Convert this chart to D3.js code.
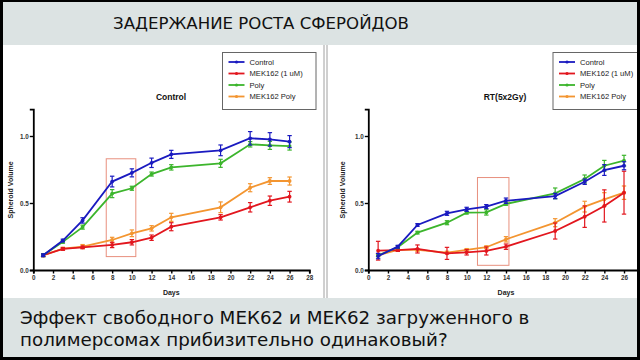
<!DOCTYPE html>
<html><head><meta charset="utf-8">
<script src="https://cdn.jsdelivr.net/npm/d3@7/dist/d3.min.js"></script>
<style>html,body{margin:0;padding:0;background:#000;}svg{display:block;}</style>
</head><body>
<svg id="c" width="640" height="360"></svg>
<script>
// ---- data ----
const slideTitle = "ЗАДЕРЖАНИЕ РОСТА СФЕРОЙДОВ";
const captionLines = ["Эффект свободного МЕК62 и МЕК62 загруженного в", "полимерсомах прибизительно одинаковый?"];
const seriesNames = ["Control", "MEK162 (1 uM)", "Poly", "MEK162 Poly"];
const seriesColors = ["#1a1ac0", "#e2161e", "#3cb52c", "#f39530"];
const days = [1, 3, 5, 8, 10, 12, 14, 19, 22, 24, 26];
const xTicksLeft = [0,2,4,6,8,10,12,14,16,18,20,22,24,26,28];
const xTicksRight = [0,2,4,6,8,10,12,14,16,18,20,22,24,26];
const yTicks = [0, 0.5, 1.0];

// Panel 1: "Control"
const ctrlTitle = "Control";
const ctrl_Control = [0.11, 0.22, 0.37, 0.66, 0.725, 0.80, 0.863, 0.893, 0.983, 0.975, 0.958];
const ctrl_Control_err = [0.01, 0.01, 0.02, 0.04, 0.03, 0.035, 0.03, 0.04, 0.05, 0.05, 0.045];
const ctrl_MEK = [0.11, 0.157, 0.169, 0.187, 0.207, 0.241, 0.323, 0.393, 0.468, 0.517, 0.547];
const ctrl_MEK_err = [0.01, 0.01, 0.01, 0.02, 0.02, 0.02, 0.03, 0.02, 0.035, 0.035, 0.04];
const ctrl_Poly = [0.11, 0.21, 0.32, 0.57, 0.61, 0.716, 0.766, 0.796, 0.938, 0.93, 0.925];
const ctrl_Poly_err = [0.01, 0.01, 0.015, 0.03, 0.015, 0.015, 0.02, 0.03, 0.02, 0.03, 0.03];
const ctrl_MEKPoly = [0.11, 0.16, 0.175, 0.224, 0.274, 0.311, 0.393, 0.468, 0.614, 0.664, 0.664];
const ctrl_MEKPoly_err = [0.01, 0.01, 0.015, 0.02, 0.025, 0.02, 0.03, 0.04, 0.03, 0.025, 0.03];
const ctrlBox = [7.4, 10.4, 0.1, 0.83];   // day range, volume range

// Panel 2: "RT(5x2Gy)"
const rtTitle = "RT(5x2Gy)";
const rt_Control = [0.104, 0.174, 0.336, 0.423, 0.453, 0.473, 0.517, 0.552, 0.659, 0.746, 0.778];
const rt_Control_err = [0.02, 0.01, 0.01, 0.015, 0.015, 0.015, 0.02, 0.02, 0.02, 0.04, 0.03];
const rt_MEK = [0.144, 0.149, 0.157, 0.124, 0.132, 0.142, 0.174, 0.291, 0.398, 0.478, 0.577];
const rt_MEK_err = [0.07, 0.01, 0.03, 0.045, 0.02, 0.03, 0.02, 0.06, 0.08, 0.12, 0.16];
const rt_Poly = [0.11, 0.17, 0.279, 0.353, 0.428, 0.43, 0.493, 0.572, 0.679, 0.778, 0.816];
const rt_Poly_err = [0.01, 0.01, 0.01, 0.015, 0.01, 0.02, 0.01, 0.04, 0.03, 0.04, 0.04];
const rt_MEKPoly = [0.11, 0.15, 0.15, 0.13, 0.15, 0.17, 0.229, 0.353, 0.473, 0.527, 0.577];
const rt_MEKPoly_err = [0.01, 0.01, 0.01, 0.01, 0.01, 0.01, 0.02, 0.03, 0.04, 0.05, 0.05];
const rtBox = [11.1, 14.3, 0.035, 0.69];

// ---- drawing ----
const svg = d3.select("#c");
svg.append("rect").attr("x",0).attr("y",0).attr("width",640).attr("height",360).attr("fill","#000");
svg.append("rect").attr("x",3).attr("y",2).attr("width",634).attr("height",43).attr("fill","#dce3e3");
svg.append("rect").attr("x",3).attr("y",45).attr("width",634).attr("height",253).attr("fill","#fff");
svg.append("rect").attr("x",3).attr("y",298).attr("width",634).attr("height",59).attr("fill","#dce3e3");
// divider
[324, 327].forEach(x => svg.append("line").attr("x1",x).attr("x2",x).attr("y1",45).attr("y2",298)
  .attr("stroke","#a0a0a0").attr("stroke-width",1));

svg.append("text").attr("x",113).attr("y",29).attr("font-family","DejaVu Sans").attr("font-size",16.6)
  .attr("fill","#111").text(slideTitle);
captionLines.forEach((t,i) => svg.append("text").attr("x",20).attr("y",324 + i*22)
  .attr("font-family","DejaVu Sans").attr("font-size",18.3).attr("fill","#111").text(t));

function panel(opts) {
  const g = svg.append("g");
  const clipId = "clip" + opts.id;
  svg.append("clipPath").attr("id", clipId).append("rect")
    .attr("x", opts.clipX0).attr("y", 45).attr("width", opts.clipX1 - opts.clipX0).attr("height", 253);
  g.attr("clip-path", `url(#${clipId})`);
  const x = d3.scaleLinear().domain([0, 28]).range([opts.x0, opts.x0 + opts.pxPerDay*28]);
  const y = d3.scaleLinear().domain([0, 1.2]).range([270, 109.2]);

  // axes
  const xa = g.append("g").attr("transform", "translate(0,270)")
    .call(d3.axisBottom(x).tickValues(opts.xTicks).tickSize(3.5).tickPadding(2).tickFormat(d3.format("d")));
  const ya = g.append("g").attr("transform", `translate(${opts.x0},0)`)
    .call(d3.axisLeft(y).tickValues(yTicks).tickSize(3.5).tickPadding(1).tickFormat(d3.format(".1f")));
  [xa, ya].forEach(a => {
    a.select(".domain").attr("stroke","#000").attr("stroke-width",1.8);
    a.selectAll(".tick line").attr("stroke","#000").attr("stroke-width",1.4);
    a.selectAll(".tick text").attr("font-family","Liberation Sans").attr("font-weight","bold")
      .attr("font-size",6.3).attr("fill","#333");
  });

  // labels
  g.append("text").attr("x", x(14)).attr("y", 295).attr("text-anchor","middle")
    .attr("font-family","Liberation Sans").attr("font-weight","bold").attr("font-size",7).attr("fill","#222").text("Days");
  g.append("text").attr("transform", `translate(${opts.ylabX},190) rotate(-90)`).attr("text-anchor","middle")
    .attr("font-family","Liberation Sans").attr("font-weight","bold").attr("font-size",7).attr("fill","#222").text("Spheroid Volume");
  g.append("text").attr("x", opts.titleX).attr("y", 100).attr("text-anchor","middle")
    .attr("font-family","Liberation Sans").attr("font-weight","bold").attr("font-size",8.5).attr("fill","#111").text(opts.title);

  // highlight box
  const b = opts.box;
  g.append("rect").attr("x", x(b[0])).attr("y", y(b[3])).attr("width", x(b[1]) - x(b[0])).attr("height", y(b[2]) - y(b[3]))
    .attr("fill","none").attr("stroke","#e8907e").attr("stroke-width",1);

  // series
  const line = d3.line().x(d => x(d.d)).y(d => y(d.v));
  opts.order.forEach(si => {
    const vals = opts.series[si], errs = opts.errs[si], col = seriesColors[si];
    const pts = days.map((d,i) => ({d, v: vals[i], e: errs[i]}));
    const sg = g.append("g");
    sg.append("path").datum(pts).attr("d", line).attr("fill","none").attr("stroke", col).attr("stroke-width",1.8);
    const eb = sg.selectAll(".eb").data(pts).enter().append("g");
    eb.append("line").attr("x1", d => x(d.d)).attr("x2", d => x(d.d)).attr("y1", d => y(d.v - d.e)).attr("y2", d => y(d.v + d.e))
      .attr("stroke", col).attr("stroke-width",1.2);
    [-1, 1].forEach(s => eb.append("line").attr("x1", d => x(d.d) - 2.2).attr("x2", d => x(d.d) + 2.2)
      .attr("y1", d => y(d.v + s*d.e)).attr("y2", d => y(d.v + s*d.e)).attr("stroke", col).attr("stroke-width",1.2));
    sg.selectAll("circle").data(pts).enter().append("circle").attr("cx", d => x(d.d)).attr("cy", d => y(d.v))
      .attr("r", 1.9).attr("fill", col);
  });

  // legend
  const L = opts.legend;
  g.append("rect").attr("x", L.x).attr("y", 52.5).attr("width", L.w).attr("height", 57)
    .attr("fill","#fff").attr("stroke","#666").attr("stroke-width",1);
  seriesNames.forEach((n, i) => {
    const ly = 62 + i*11.5;
    g.append("line").attr("x1", L.x + 6).attr("x2", L.x + 22).attr("y1", ly).attr("y2", ly)
      .attr("stroke", seriesColors[i]).attr("stroke-width", 1.8);
    g.append("circle").attr("cx", L.x + 14).attr("cy", ly).attr("r", 1.6).attr("fill", seriesColors[i]);
    g.append("text").attr("x", L.x + 27).attr("y", ly + 2.7).attr("font-family","Liberation Sans")
      .attr("font-size", 7.6).attr("fill","#222").text(n);
  });
}

panel({id: 1, title: ctrlTitle, x0: 33.3, pxPerDay: 9.857, clipX0: 3, clipX1: 324, ylabX: 13, titleX: 171,
  xTicks: xTicksLeft,
  series: [ctrl_Control, ctrl_MEK, ctrl_Poly, ctrl_MEKPoly],
  errs: [ctrl_Control_err, ctrl_MEK_err, ctrl_Poly_err, ctrl_MEKPoly_err],
  order: [3, 1, 2, 0], box: ctrlBox, legend: {x: 222.5, w: 93.5}});
panel({id: 2, title: rtTitle, x0: 368.3, pxPerDay: 9.835, clipX0: 328, clipX1: 637, ylabX: 345, titleX: 505,
  xTicks: xTicksRight,
  series: [rt_Control, rt_MEK, rt_Poly, rt_MEKPoly],
  errs: [rt_Control_err, rt_MEK_err, rt_Poly_err, rt_MEKPoly_err],
  order: [3, 1, 2, 0], box: rtBox, legend: {x: 553, w: 100}});
</script>
</body></html>
